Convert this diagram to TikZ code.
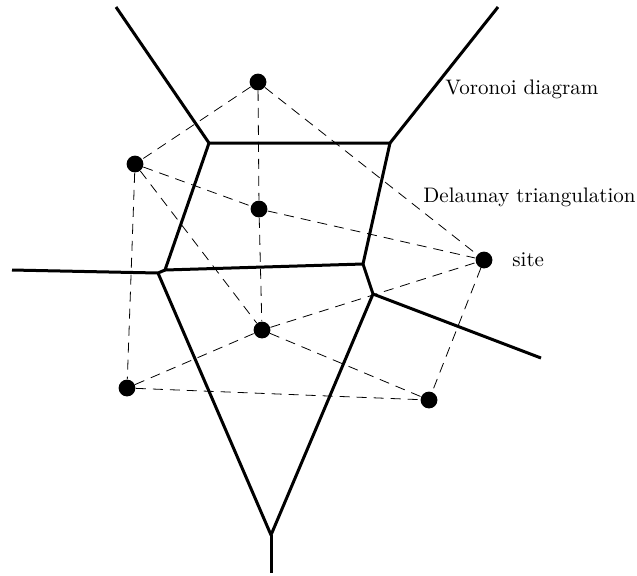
\documentclass[tikz,border=0pt]{standalone}
\begin{document}
\begin{tikzpicture}[
    x=0.5pt, y=-0.5pt,
    site/.style={circle, fill=black, inner sep=0pt, minimum size=8.4pt},
    cell/.style={line width=1.5pt, line join=round},
    tri/.style={line width=0.4pt, dash pattern=on 5pt off 3.5pt},
    label/.style={anchor=west, inner sep=0pt, font=\fontsize{10.5pt}{12pt}\selectfont}
]
\useasboundingbox (0,0) rectangle (637,575);

% Sites
\node[site] (top) at (258,82) {};
\node[site] (upleft) at (135,164) {};
\node[site] (mid) at (259,209) {};
\node[site] (right) at (484,260) {};
\node[site] (low) at (262,330) {};
\node[site] (downleft) at (127,388) {};
\node[site] (downright) at (429,400) {};

% Voronoi vertices and open ends
\coordinate (vtl) at (209,143);
\coordinate (vtr) at (390,143);
\coordinate (vml) at (165,270);
\coordinate (vll) at (158,273);
\coordinate (vmr) at (363,264);
\coordinate (vlr) at (373,294);
\coordinate (vbot) at (271,535);
\coordinate (endtl) at (116,7);
\coordinate (endtr) at (498,7);
\coordinate (endl) at (12,270);
\coordinate (endr) at (541,358);
\coordinate (endb) at (271,573);

% Voronoi diagram
\draw[cell] (endtl) -- (vtl) -- (vtr) -- (endtr);
\draw[cell] (vtl) -- (vml) -- (vmr) -- (vtr);
\draw[cell] (endl) -- (vll) -- (vml);
\draw[cell] (vll) -- (vbot) -- (vlr) -- (vmr);
\draw[cell] (vlr) -- (endr);
\draw[cell] (vbot) -- (endb);

% Delaunay triangulation
\draw[tri] (top) -- (upleft);
\draw[tri] (top) -- (mid);
\draw[tri] (top) -- (right);
\draw[tri] (upleft) -- (mid);
\draw[tri] (mid) -- (right);
\draw[tri] (mid) -- (low);
\draw[tri] (upleft) -- (low);
\draw[tri] (upleft) -- (downleft);
\draw[tri] (downleft) -- (low);
\draw[tri] (low) -- (right);
\draw[tri] (low) -- (downright);
\draw[tri] (downleft) -- (downright);
\draw[tri] (right) -- (downright);

% Labels
\node[label] (voronoi) at (445,89) {Voronoi diagram};
\node[label] (delaunay) at (423,197) {Delaunay triangulation};
\node[label] (sitelabel) at (512,260) {site};

\end{tikzpicture}
\end{document}
